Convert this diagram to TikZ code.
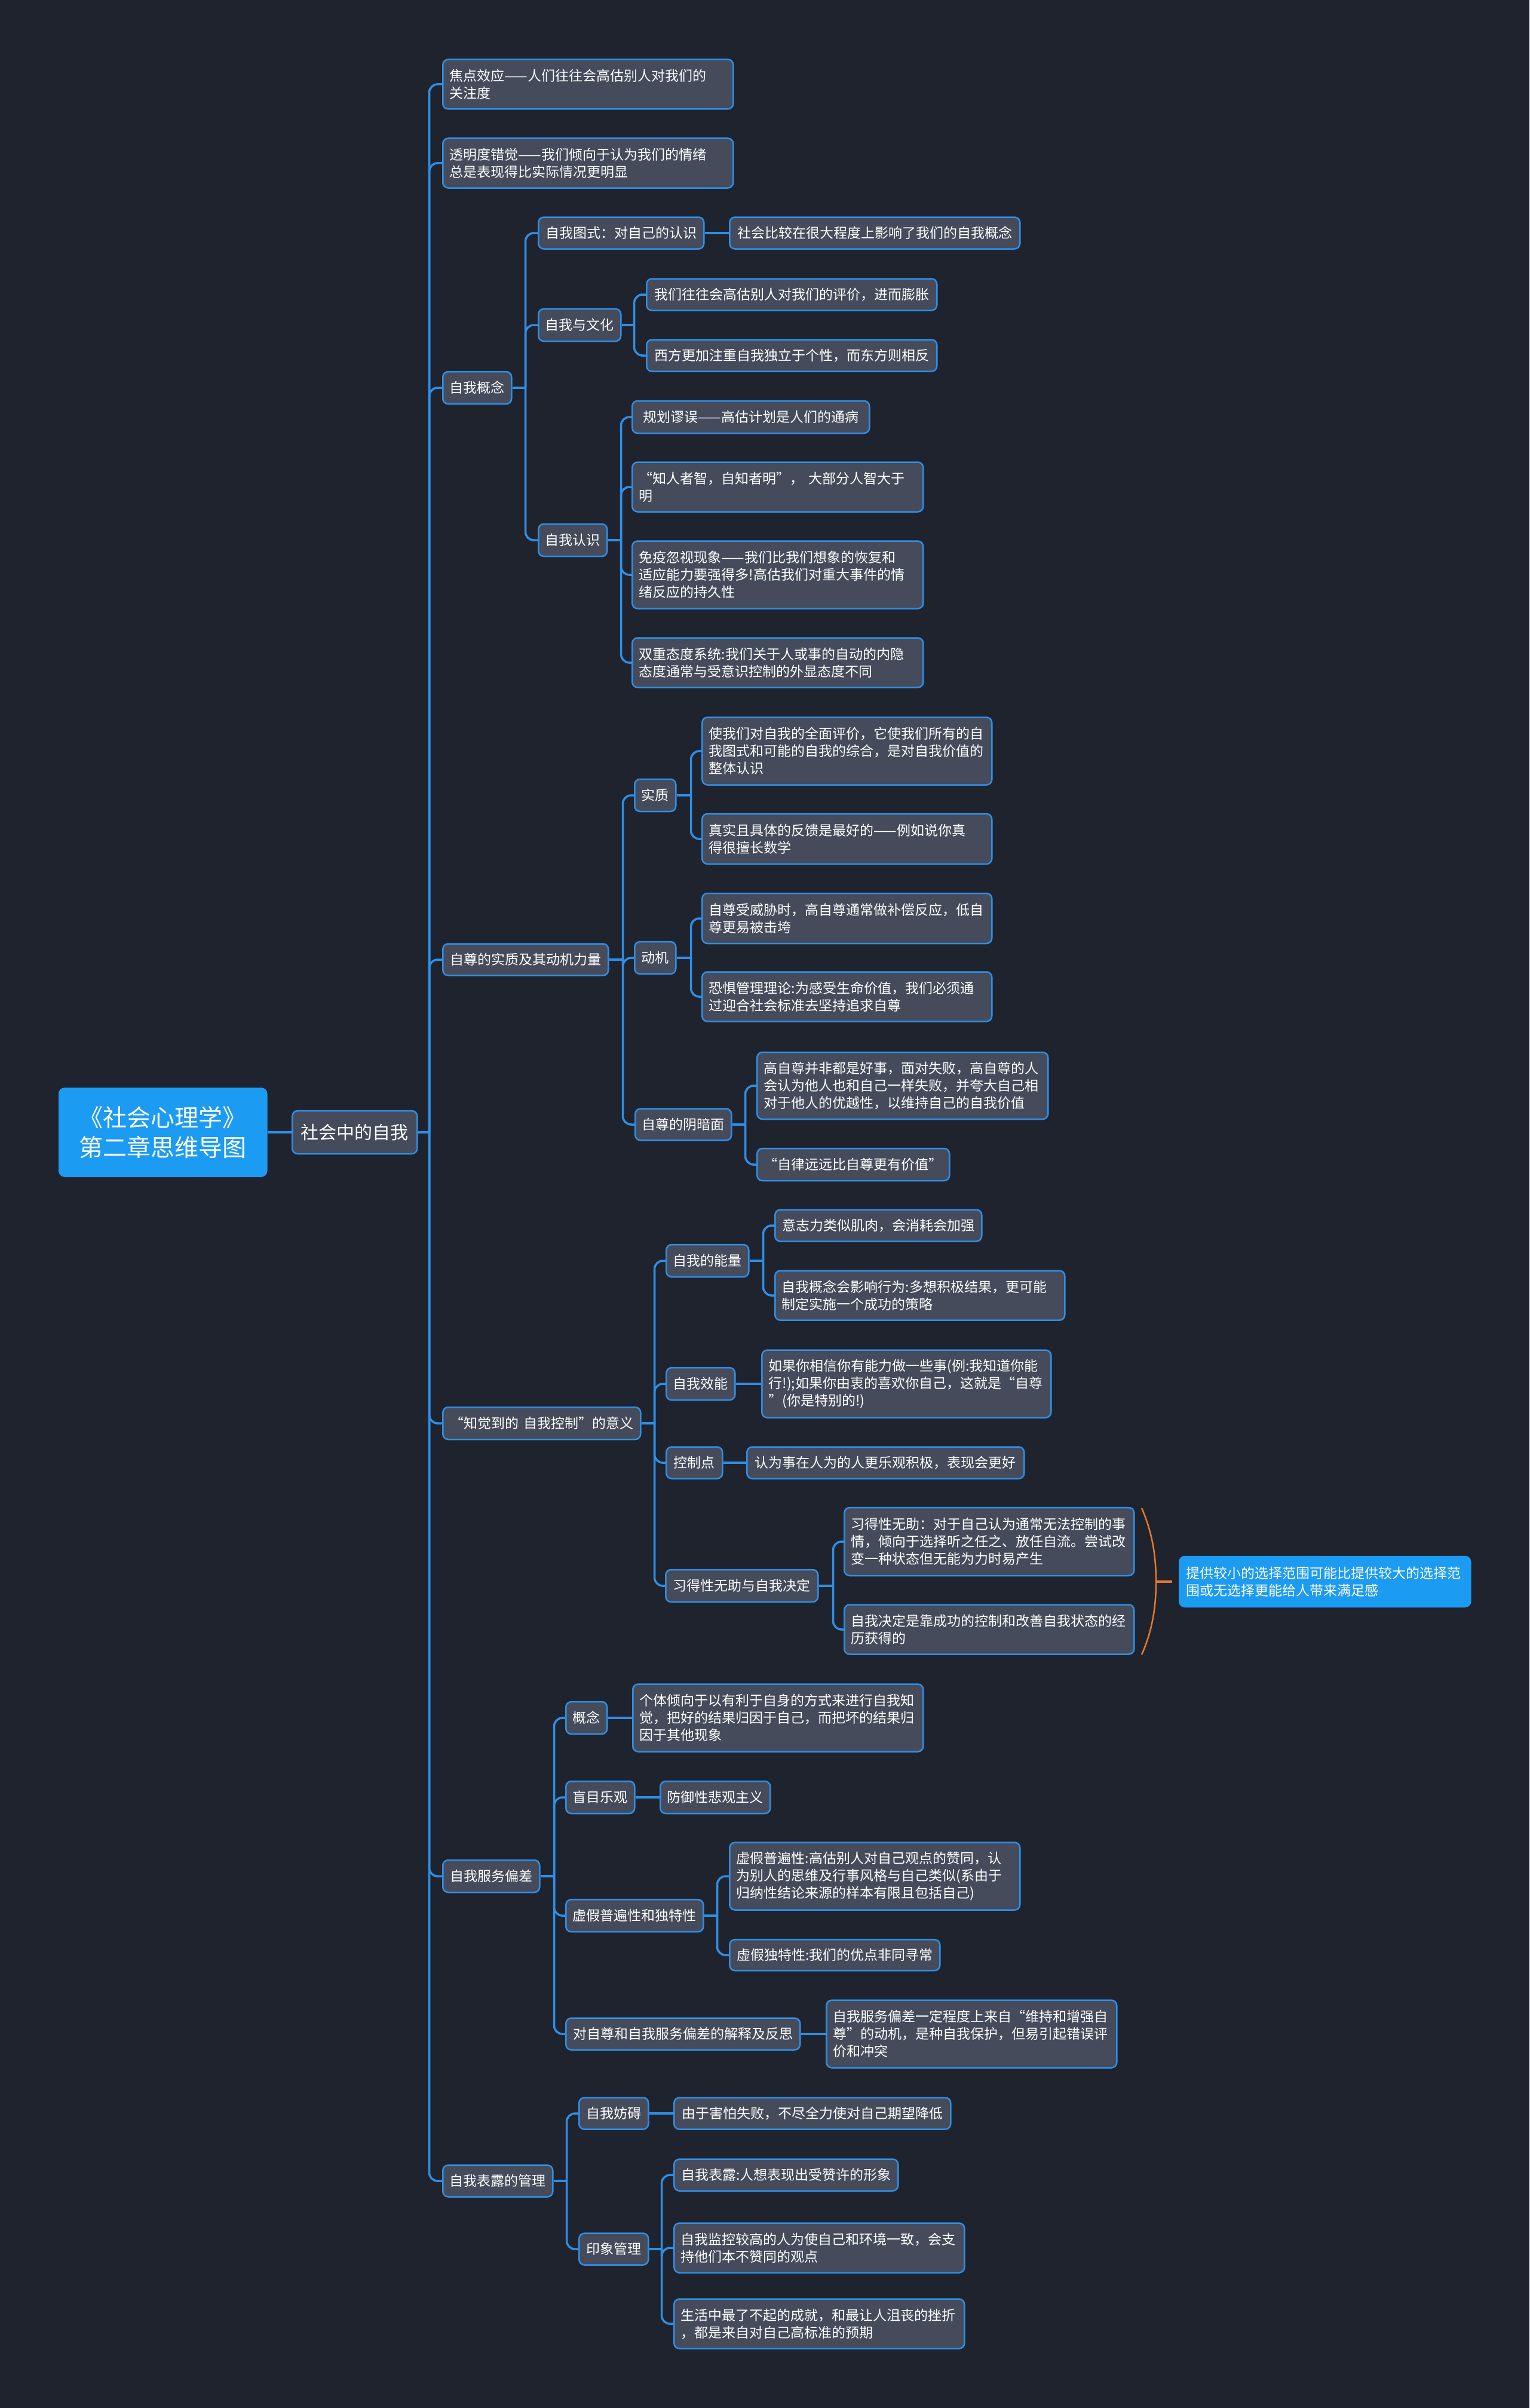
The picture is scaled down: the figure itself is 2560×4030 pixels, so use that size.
\documentclass[tikz,border=0pt]{standalone}
\usepackage{fontspec}
\setmainfont{Noto Sans CJK SC}
\definecolor{bg}{HTML}{1F232E}
\definecolor{nodefill}{HTML}{454B5B}
\definecolor{edgeblue}{HTML}{2F8FE6}
\definecolor{rootfill}{HTML}{1C9BF2}
\definecolor{bracecol}{HTML}{E8792B}
\tikzset{
  box/.style={draw=edgeblue, line width=2.5pt, fill=nodefill, rounded corners=9pt, text=white,
    anchor=west, inner xsep=11.5pt, inner ysep=0pt, font=\fontsize{23}{29}\selectfont, align=left},
  one/.style={align=center},
  rootbox/.style={box, fill=rootfill, draw=rootfill, align=center, font=\fontsize{40}{50}\selectfont},
  conn/.style={draw=edgeblue, line width=3.5pt},
  braceline/.style={draw=bracecol, line width=2.5pt},
}
\newcommand\mmlink[3]{%
  \path (#1.east) ++(#2,0) coordinate (#1bus);
  \draw[conn] (#1.east) -- (#1bus);
  \foreach \mmchild in {#3}{\draw[conn, rounded corners=14pt] (#1bus) |- (\mmchild.west);}
}
\begin{document}
\begin{tikzpicture}[x=1pt,y=-1pt]
\fill[bg] (0,0) rectangle (2560,4030);
\useasboundingbox (0,0) rectangle (2560,4030);

% root and level 0
\node[rootbox, text width=324pt, minimum height=147pt] (root) at (98,1895) {《社会心理学》\\第二章思维导图};
\node[box, one, text width=186pt, minimum height=72pt, font=\fontsize{30}{36}\selectfont] (s) at (488,1895) {社会中的自我};

% level 1
\node[box, text width=463pt, minimum height=83pt] (a1) at (740,141) {焦点效应——人们往往会高估别人对我们的\\关注度};
\node[box, text width=463pt, minimum height=83pt] (a2) at (740,273) {透明度错觉——我们倾向于认为我们的情绪\\总是表现得比实际情况更明显};
\node[box, one, text width=92pt, minimum height=54pt] (a3) at (740,649) {自我概念};
\node[box, one, text width=254pt, minimum height=53pt] (a4) at (740,1606) {自尊的实质及其动机力量};
\node[box, one, text width=308pt, minimum height=54pt] (a5) at (740,2382) {“知觉到的 自我控制”的意义};
\node[box, one, text width=139pt, minimum height=54pt] (a6) at (740,3140) {自我服务偏差};
\node[box, one, text width=161pt, minimum height=53pt] (a7) at (740,3650) {自我表露的管理};

% under 自我概念
\node[box, one, text width=254pt, minimum height=53pt] (b1) at (900,390) {自我图式：对自己的认识};
\node[box, one, text width=463pt, minimum height=53pt] (b1c) at (1220,390) {社会比较在很大程度上影响了我们的自我概念};
\node[box, one, text width=115pt, minimum height=54pt] (b2) at (900,544) {自我与文化};
\node[box, one, text width=463pt, minimum height=53pt] (b2a) at (1081,493) {我们往往会高估别人对我们的评价，进而膨胀};
\node[box, one, text width=463pt, minimum height=53pt] (b2b) at (1081,595) {西方更加注重自我独立于个性，而东方则相反};
\node[box, one, text width=92pt, minimum height=54pt] (b3) at (900,904) {自我认识};
\node[box, one, text width=374pt, minimum height=54pt] (b3a) at (1057,698) {规划谬误——高估计划是人们的通病};
\node[box, text width=464pt, minimum height=83pt] (b3b) at (1057,815) {“知人者智，自知者明”， 大部分人智大于\\明};
\node[box, text width=464pt, minimum height=113pt] (b3c) at (1057,962) {免疫忽视现象——我们比我们想象的恢复和\\适应能力要强得多!高估我们对重大事件的情\\绪反应的持久性};
\node[box, text width=464pt, minimum height=83pt] (b3d) at (1057,1109) {双重态度系统:我们关于人或事的自动的内隐\\态度通常与受意识控制的外显态度不同};

% under 自尊的实质及其动机力量
\node[box, one, text width=46pt, minimum height=54pt] (b4) at (1061,1331) {实质};
\node[box, text width=462pt, minimum height=113pt] (b4a) at (1174,1257) {使我们对自我的全面评价，它使我们所有的自\\我图式和可能的自我的综合，是对自我价值的\\整体认识};
\node[box, text width=462pt, minimum height=84pt] (b4b) at (1174,1404) {真实且具体的反馈是最好的——例如说你真\\得很擅长数学};
\node[box, one, text width=46pt, minimum height=54pt] (b5) at (1061,1603) {动机};
\node[box, text width=462pt, minimum height=84pt] (b5a) at (1174,1537) {自尊受威胁时，高自尊通常做补偿反应，低自\\尊更易被击垮};
\node[box, text width=462pt, minimum height=83pt] (b5b) at (1174,1668) {恐惧管理理论:为感受生命价值，我们必须通\\过迎合社会标准去坚持追求自尊};
\node[box, one, text width=138pt, minimum height=53pt] (b6) at (1062,1882) {自尊的阴暗面};
\node[box, text width=464pt, minimum height=112pt] (b6a) at (1266,1817) {高自尊并非都是好事，面对失败，高自尊的人\\会认为他人也和自己一样失败，并夸大自己相\\对于他人的优越性，以维持自己的自我价值};
\node[box, one, text width=299pt, minimum height=54pt] (b6b) at (1266,1949) {“自律远远比自尊更有价值”};

% under 知觉到的自我控制
\node[box, one, text width=115pt, minimum height=54pt] (b7) at (1114,2110) {自我的能量};
\node[box, one, text width=323pt, minimum height=53pt] (b7a) at (1296,2051) {意志力类似肌肉，会消耗会加强};
\node[box, text width=462pt, minimum height=83pt] (b7b) at (1296,2168) {自我概念会影响行为:多想积极结果，更可能\\制定实施一个成功的策略};
\node[box, one, text width=92pt, minimum height=54pt] (b8) at (1114,2316) {自我效能};
\node[box, text width=461pt, minimum height=113pt] (b8a) at (1274,2316) {如果你相信你有能力做一些事(例:我知道你能\\行!);如果你由衷的喜欢你自己，这就是“自尊\\”(你是特别的!)};
\node[box, one, text width=71pt, minimum height=53pt] (b9) at (1114,2448) {控制点};
\node[box, one, text width=441pt, minimum height=53pt] (b9a) at (1249,2448) {认为事在人为的人更乐观积极，表现会更好};
\node[box, one, text width=232pt, minimum height=54pt] (b10) at (1113,2654) {习得性无助与自我决定};
\node[box, text width=462pt, minimum height=114pt] (b10a) at (1412,2580) {习得性无助：对于自己认为通常无法控制的事\\情，倾向于选择听之任之、放任自流。尝试改\\变一种状态但无能为力时易产生};
\node[box, text width=462pt, minimum height=83pt] (b10b) at (1412,2727) {自我决定是靠成功的控制和改善自我状态的经\\历获得的};
\node[box, text width=464pt, minimum height=84pt, fill=rootfill, draw=rootfill] (d) at (1973,2647) {提供较小的选择范围可能比提供较大的选择范\\围或无选择更能给人带来满足感};

% under 自我服务偏差
\node[box, one, text width=46pt, minimum height=54pt] (b11) at (946,2875) {概念};
\node[box, text width=463pt, minimum height=113pt] (b11a) at (1058,2875) {个体倾向于以有利于自身的方式来进行自我知\\觉，把好的结果归因于自己，而把坏的结果归\\因于其他现象};
\node[box, one, text width=92pt, minimum height=54pt] (b12) at (946,3008) {盲目乐观};
\node[box, one, text width=161pt, minimum height=54pt] (b12a) at (1104,3008) {防御性悲观主义};
\node[box, one, text width=207pt, minimum height=54pt] (b13) at (946,3206) {虚假普遍性和独特性};
\node[box, text width=463pt, minimum height=113pt] (b13a) at (1220,3140) {虚假普遍性:高估别人对自己观点的赞同，认\\为别人的思维及行事风格与自己类似(系由于\\归纳性结论来源的样本有限且包括自己)};
\node[box, one, text width=329pt, minimum height=52pt] (b13b) at (1220,3272) {虚假独特性:我们的优点非同寻常};
\node[box, one, text width=369pt, minimum height=53pt] (b14) at (946,3404) {对自尊和自我服务偏差的解释及反思};
\node[box, text width=463pt, minimum height=113pt] (b14a) at (1382,3404) {自我服务偏差一定程度上来自“维持和增强自\\尊”的动机，是种自我保护，但易引起错误评\\价和冲突};

% under 自我表露的管理
\node[box, one, text width=93pt, minimum height=53pt] (b15) at (968,3537) {自我妨碍};
\node[box, one, text width=440pt, minimum height=53pt] (b15a) at (1127,3537) {由于害怕失败，不尽全力使对自己期望降低};
\node[box, one, text width=93pt, minimum height=53pt] (b16) at (968,3764) {印象管理};
\node[box, one, text width=352pt, minimum height=53pt] (b16a) at (1127,3640) {自我表露:人想表现出受赞许的形象};
\node[box, text width=463pt, minimum height=83pt] (b16b) at (1127,3762) {自我监控较高的人为使自己和环境一致，会支\\持他们本不赞同的观点};
\node[box, text width=463pt, minimum height=83pt] (b16c) at (1127,3889) {生活中最了不起的成就，和最让人沮丧的挫折\\，都是来自对自己高标准的预期};

% connectors
\draw[conn] (root.east) -- (s.west);
\mmlink{s}{19}{a1,a2,a3,a4,a5,a6,a7}
\mmlink{a3}{22}{b1,b2,b3}
\draw[conn] (b1.east) -- (b1c.west);
\mmlink{b2}{21}{b2a,b2b}
\mmlink{b3}{22}{b3a,b3b,b3c,b3d}
\mmlink{a4}{23}{b4,b5,b6}
\mmlink{b4}{24}{b4a,b4b}
\mmlink{b5}{24}{b5a,b5b}
\mmlink{b6}{22}{b6a,b6b}
\mmlink{a5}{22}{b7,b8,b9,b10}
\mmlink{b7}{23}{b7a,b7b}
\draw[conn] (b8.east) -- (b8a.west);
\draw[conn] (b9.east) -- (b9a.west);
\mmlink{b10}{24}{b10a,b10b}
\mmlink{a6}{23}{b11,b12,b13,b14}
\draw[conn] (b11.east) -- (b11a.west);
\draw[conn] (b12.east) -- (b12a.west);
\mmlink{b13}{22}{b13a,b13b}
\draw[conn] (b14.east) -- (b14a.west);
\mmlink{a7}{22}{b15,b16}
\draw[conn] (b15.east) -- (b15a.west);
\draw[conn] (b16.east) ++(21,0) coordinate (b16bus);
\draw[conn] (b16.east) -- (b16bus);
\foreach \mmchild in {b16a,b16b,b16c}{\draw[conn, rounded corners=14pt] (b16bus) |- (\mmchild.west);}

% summary brace
\coordinate (brT) at (1911,2524);
\coordinate (brM) at (1935,2647);
\coordinate (brB) at (1911,2769);
\draw[braceline] (brT) .. controls (1929,2565) and (1935,2605) .. (brM) .. controls (1935,2689) and (1929,2729) .. (brB);
\draw[braceline, line width=3.5pt, shorten >=11pt] (brM) -- (d.west);
\end{tikzpicture}
\end{document}
